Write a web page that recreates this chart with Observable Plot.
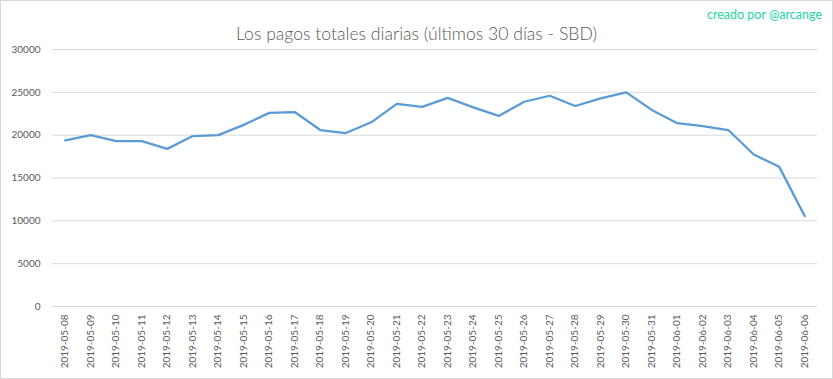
<!DOCTYPE html>
<html>
<head>
<meta charset="utf-8">
<script src="https://cdn.jsdelivr.net/npm/d3@7"></script>
<script src="https://cdn.jsdelivr.net/npm/@observablehq/plot@0.6"></script>
<style>
  html, body { margin: 0; padding: 0; background: #fff; }
  #chart {
    position: relative; box-sizing: border-box; width: 833px; height: 379px;
    border: 1px solid #d9d9d9; background: #fff; overflow: hidden;
  }
  #header { position: relative; height: 40px; }
  #title {
    position: absolute; left: 0; right: 0; top: 23px; text-align: center;
    font-family: Lato, "Open Sans", sans-serif; font-weight: 300; font-size: 17.6px;
    line-height: 20px; color: #595959; white-space: nowrap;
  }
  #credit {
    position: absolute; right: 10px; top: 7px;
    font-family: Lato, "Open Sans", sans-serif; font-size: 12.5px; line-height: 14px;
    color: #22d6a2; white-space: nowrap;
  }
  svg { display: block; }
</style>
</head>
<body>
<div id="chart">
  <div id="header">
    <div id="credit">creado por @arcange</div>
    <div id="title">Los pagos totales diarias (últimos 30 días - SBD)</div>
  </div>
</div>
<script>
const dates = [
  "2019-05-08","2019-05-09","2019-05-10","2019-05-11","2019-05-12","2019-05-13",
  "2019-05-14","2019-05-15","2019-05-16","2019-05-17","2019-05-18","2019-05-19",
  "2019-05-20","2019-05-21","2019-05-22","2019-05-23","2019-05-24","2019-05-25",
  "2019-05-26","2019-05-27","2019-05-28","2019-05-29","2019-05-30","2019-05-31",
  "2019-06-01","2019-06-02","2019-06-03","2019-06-04","2019-06-05","2019-06-06"
];
const payouts = [
  19400, 20000, 19300, 19300, 18400, 19900,
  20000, 21200, 22600, 22700, 20600, 20250,
  21500, 23650, 23300, 24350, 23250, 22250,
  23900, 24600, 23400, 24300, 25000, 22950,
  21400, 21050, 20600, 17750, 16300, 10550
];
const yTicks = [0, 5000, 10000, 15000, 20000, 25000, 30000];

const data = dates.map((d, i) => ({date: d, value: payouts[i]}));

const plot = Plot.plot({
  width: 831,
  height: 337,
  marginLeft: 51,
  marginRight: 15,
  marginTop: 8,
  marginBottom: 72,
  style: {fontFamily: "Lato, 'Open Sans', sans-serif", fontSize: "10px", color: "#595959", background: "#fff"},
  x: {type: "point", domain: dates, padding: 0.5, round: false, label: null},
  y: {domain: [0, 30000], label: null},
  marks: [
    Plot.ruleY(yTicks, {stroke: "#d9d9d9", strokeWidth: 1, strokeOpacity: 1}),
    Plot.axisY({ticks: yTicks, tickSize: 0, tickPadding: 12, tickFormat: d => String(d), label: null, fill: "#595959"}),
    Plot.axisX({tickSize: 0, tickPadding: 8, tickRotate: -90, label: null, fill: "#595959"}),
    Plot.line(data, {x: "date", y: "value", stroke: "#5b9bd5", strokeWidth: 2.25, strokeLinejoin: "round", strokeLinecap: "round"})
  ]
});
document.getElementById("chart").appendChild(plot);
</script>
</body>
</html>
